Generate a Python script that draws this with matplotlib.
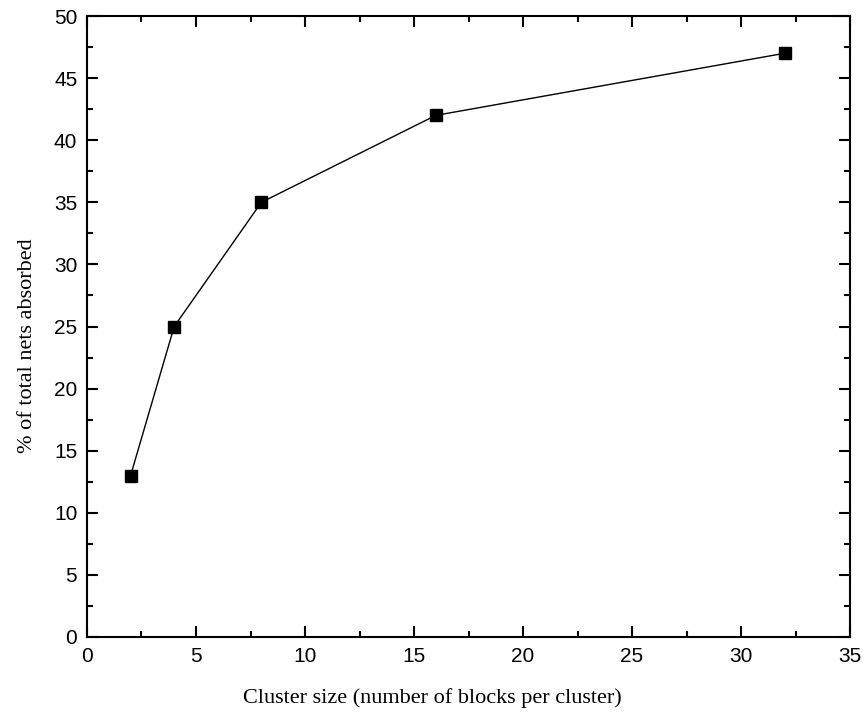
import matplotlib
matplotlib.use("Agg")
import matplotlib.pyplot as plt
from matplotlib.ticker import MultipleLocator

# cluster size vs. share of nets absorbed
cluster_size = [2, 4, 8, 16, 32]
nets_absorbed = [13, 25, 35, 42, 47]

fig = plt.figure(figsize=(8.63, 7.15), dpi=100)
ax = fig.add_axes([0.1008, 0.1091, 0.8842, 0.8685])

ax.plot(cluster_size, nets_absorbed, color="black", linewidth=1.0,
        marker="s", markersize=8, markerfacecolor="black", markeredgecolor="black")

ax.set_xlim(0, 35)
ax.set_ylim(0, 50)
ax.xaxis.set_major_locator(MultipleLocator(5))
ax.xaxis.set_minor_locator(MultipleLocator(2.5))
ax.yaxis.set_major_locator(MultipleLocator(5))
ax.yaxis.set_minor_locator(MultipleLocator(2.5))

ax.tick_params(which="both", direction="in", top=True, right=True, width=1.5)
ax.tick_params(which="major", length=8, labelsize=15, pad=7)
ax.tick_params(which="minor", length=4)
for lbl in ax.get_xticklabels() + ax.get_yticklabels():
    lbl.set_family("Liberation Sans")
for s in ax.spines.values():
    s.set_linewidth(1.5)

ax.set_xlabel("Cluster size (number of blocks per cluster)",
              family="Liberation Serif", fontsize=16, labelpad=16)
ax.set_ylabel("% of total nets absorbed",
              family="Liberation Serif", fontsize=16, labelpad=12)
# labels sit a little off-centre along their axes
ax.xaxis.label.set_x(0.452)
ax.yaxis.label.set_y(0.469)

fig.savefig("out.png", dpi=100)
